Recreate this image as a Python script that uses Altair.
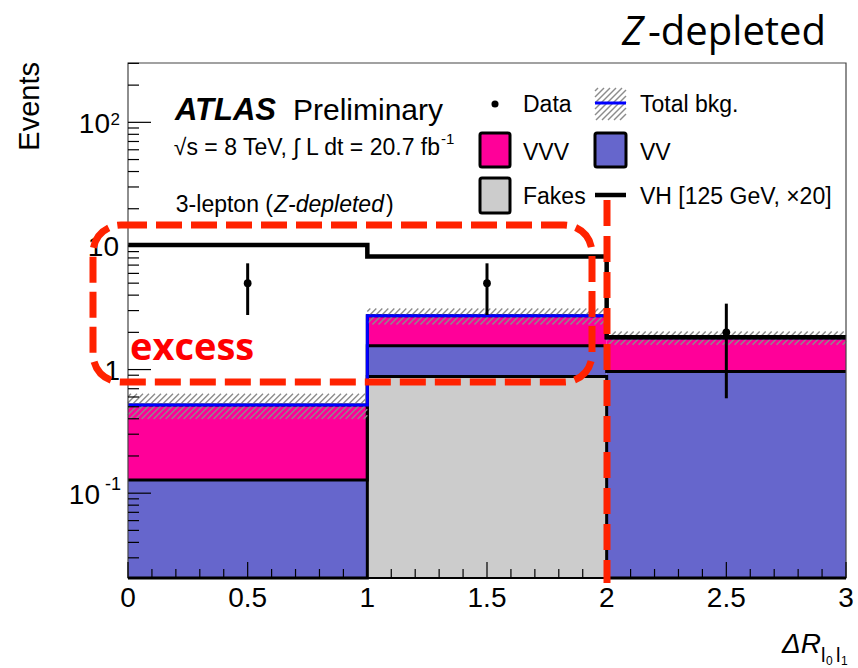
import math
import altair as alt
import pandas as pd

# Bin edges in Delta R(l0, l1)
bin_lo = [0.0, 1.0, 2.0]
bin_hi = [1.0, 2.0, 3.0]

# Expected backgrounds per bin, stacked bottom to top: Fakes, VV, VVV
fakes = [0.0, 0.877, 0.0]
vv = [0.128, 0.679, 0.963]
vvv = [0.390, 1.164, 0.847]
bkg_unc = [0.12, 0.40, 0.22]

# VH signal (125 GeV), scaled by 20
vh_x20 = [10.2, 8.22, 1.83]

# Observed events
data_x = [0.5, 1.5, 2.5]
data_n = [5, 5, 2]

# Axis ticks
x_major = [0, 0.5, 1, 1.5, 2, 2.5, 3]
x_labels = ["0", "0.5", "1", "1.5", "2", "2.5", "3"]
y_major = [0.1, 1, 10, 100]

YMIN, YMAX = 0.0206, 302.0

# Page geometry (pixels)
W, H = 858, 668
L, R, T, B = 128, 846, 63, 578
FONT = "Liberation Sans"
RED = "#ff2200"

total = [a + b + c for a, b, c in zip(fakes, vv, vvv)]

xs = alt.Scale(domain=[0, 3], range=[L, R], nice=False, zero=False)
ys = alt.Scale(type="log", domain=[YMIN, YMAX], range=[B, T], nice=False)

px_per_x = (R - L) / 3.0
px_per_dec = (B - T) / (math.log10(YMAX) - math.log10(YMIN))


def px_x(px):
    return (px - L) / px_per_x


def px_y(py):
    return 10 ** (math.log10(YMIN) + (B - py) / px_per_dec)


def xq(f):
    return alt.X(f, type="quantitative", scale=xs, axis=None)


def yq(f):
    return alt.Y(f, type="quantitative", scale=ys, axis=None)


def text_at(s, x, y, size, align="left", style="normal", weight="normal",
            color="black", font=FONT, angle=0, baseline="alphabetic"):
    return alt.Chart(pd.DataFrame({"t": [s]})).mark_text(
        fontSize=size, align=align, baseline=baseline, font=font, color=color,
        fontStyle=style, fontWeight=weight, angle=angle, clip=False,
    ).encode(x=alt.value(x), y=alt.value(y), text="t:N")


# ---- stacked background histogram ----
stack_rows = []
for i in range(3):
    cum = 0.0
    for name, vals in (("Fakes", fakes), ("VV", vv), ("VVV", vvv)):
        v = vals[i]
        if v > 0:
            stack_rows.append({"x": bin_lo[i], "x2": bin_hi[i],
                               "y": max(cum, YMIN), "y2": cum + v, "comp": name})
        cum += v

stack = alt.Chart(pd.DataFrame(stack_rows)).mark_rect(strokeWidth=0).encode(
    x=xq("x"), x2="x2", y=yq("y"), y2="y2",
    color=alt.Color("comp:N", legend=None,
                    scale=alt.Scale(domain=["Fakes", "VV", "VVV"],
                                    range=["#cccccc", "#6666cc", "#ff0099"])),
)


def step_rows(name, vals):
    rows, k = [], 0
    for lo, hi, v in zip(bin_lo, bin_hi, vals):
        v = max(v, YMIN)
        rows.append({"s": name, "k": k, "x": lo, "y": v}); k += 1
        rows.append({"s": name, "k": k, "x": hi, "y": v}); k += 1
    return rows


outline_rows = (step_rows("fakes", fakes)
                + step_rows("fakes_vv", [a + b for a, b in zip(fakes, vv)])
                + step_rows("all", total))
outlines = alt.Chart(pd.DataFrame(outline_rows)).mark_line(
    color="black", strokeWidth=3, strokeJoin="miter", clip=False
).encode(x=xq("x"), y=yq("y"), detail="s:N", order="k:Q")

# ---- hatched uncertainty band around total background ----
HATCH_STEP = 6.0
hatch = []
for lo_e, hi_e, tot, unc in zip(bin_lo, bin_hi, total, bkg_unc):
    la, lb = math.log10(tot - unc), math.log10(tot + unc)
    run = (lb - la) * px_per_dec / px_per_x
    step = HATCH_STEP / px_per_x
    x0 = lo_e - run + step / 2
    while x0 < hi_e:
        xa, xb, ya, yb = x0, x0 + run, la, lb
        if xa < lo_e:
            ya = la + (lo_e - xa) / run * (lb - la)
            xa = lo_e
        if xb > hi_e:
            yb = lb - (xb - hi_e) / run * (lb - la)
            xb = hi_e
        if xb > xa:
            hatch.append({"x": xa, "x2": xb, "y": 10 ** ya, "y2": 10 ** yb})
        x0 += step

band = alt.Chart(pd.DataFrame(hatch)).mark_rule(
    color="#8c8c8c", strokeWidth=1.4
).encode(x=xq("x"), x2="x2", y=yq("y"), y2="y2")

total_line = alt.Chart(pd.DataFrame(step_rows("tot", total))).mark_line(
    color="#0000ff", strokeWidth=3, strokeJoin="miter"
).encode(x=xq("x"), y=yq("y"), order="k:Q")

vh_line = alt.Chart(pd.DataFrame(step_rows("vh", vh_x20))).mark_line(
    color="black", strokeWidth=4.5, strokeJoin="miter"
).encode(x=xq("x"), y=yq("y"), order="k:Q")

# ---- data points with Poisson errors ----
dat = pd.DataFrame({
    "x": data_x, "n": data_n,
    "lo": [n - math.sqrt(n) for n in data_n],
    "hi": [n + math.sqrt(n) for n in data_n],
})
err = alt.Chart(dat).mark_rule(color="black", strokeWidth=3).encode(
    x=xq("x"), y=yq("lo"), y2="hi")
pts = alt.Chart(dat).mark_circle(color="black", size=60, opacity=1).encode(
    x=xq("x"), y=yq("n"))

# ---- frame and ticks ----
frame = alt.Chart(pd.DataFrame({"a": [0]})).mark_rect(
    fillOpacity=0, stroke="#444444", strokeWidth=1.2
).encode(x=alt.value(L), x2=alt.value(R), y=alt.value(T), y2=alt.value(B))
bottom = alt.Chart(pd.DataFrame({"a": [0]})).mark_rule(
    color="black", strokeWidth=2
).encode(x=alt.value(L), x2=alt.value(R), y=alt.value(B))

y_minor = [k * 10 ** d for d in range(-2, 3) for k in range(2, 10)
           if YMIN < k * 10 ** d < YMAX]
yt_major = alt.Chart(pd.DataFrame({"v": y_major})).mark_rule(
    color="black", strokeWidth=1.2
).encode(x=alt.value(L), x2=alt.value(L + 23), y=yq("v"))
yt_minor = alt.Chart(pd.DataFrame({"v": y_minor})).mark_rule(
    color="black", strokeWidth=1.2
).encode(x=alt.value(L), x2=alt.value(L + 11), y=yq("v"))

x_minor = [round(i * 0.1, 2) for i in range(31) if i % 5 != 0]
xt_major = alt.Chart(pd.DataFrame({"v": x_major})).mark_rule(
    color="black", strokeWidth=1.2
).encode(x=xq("v"), y=alt.value(B), y2=alt.value(B - 16))
xt_minor = alt.Chart(pd.DataFrame({"v": x_minor})).mark_rule(
    color="black", strokeWidth=1.2
).encode(x=xq("v"), y=alt.value(B), y2=alt.value(B - 9))

x_tick_text = alt.Chart(pd.DataFrame({"v": x_major, "t": x_labels})).mark_text(
    fontSize=28, font=FONT, align="center", baseline="alphabetic", clip=False
).encode(x=xq("v"), y=alt.value(607), text="t:N")


def ylab(s, v, x, size, dy):
    return alt.Chart(pd.DataFrame({"v": [v], "t": [s]})).mark_text(
        fontSize=size, font=FONT, align="right", baseline="alphabetic",
        dy=dy, clip=False
    ).encode(x=alt.value(x), y=yq("v"), text="t:N")


y_tick_text = [
    ylab("10", 100, 110, 28, 10.5), ylab("2", 100, 120, 17, 2.5),
    ylab("10", 10, 119, 28, 10.5),
    ylab("1", 1, 120, 28, 10.5),
    ylab("10", 0.1, 100, 28, 10.5), ylab("-1", 0.1, 121, 18, -3),
]

# ---- axis titles and headline ----
titles = [
    text_at("Events", 39, 62, 29, align="right", angle=270),
    text_at("\u0394R", 821, 653, 28, align="right", style="italic"),
    text_at("l", 821, 662, 20),
    text_at("0", 826, 665, 12),
    text_at("l", 836, 662, 20),
    text_at("1", 841, 665, 12),
    text_at("Z", 622, 45, 40, style="italic", font="Open Sans"),
    text_at("-depleted", 648, 45, 40, font="Open Sans"),
]

# ---- in-plot labels ----
labels = [
    text_at("ATLAS", 175, 120, 31, style="italic", weight="bold"),
    text_at("Preliminary", 293, 120, 30),
    text_at("\u221as = 8 TeV, \u222b L dt = 20.7 fb", 440, 155, 23, align="right"),
    text_at("-1", 441, 144, 15),
    text_at("3-lepton (", 273, 212, 23, align="right"),
    text_at("Z-depleted", 274, 212, 23, style="italic"),
    text_at(")", 386, 212, 23),
]

# ---- legend ----
def box(x0, x1, y0, y1, color):
    return alt.Chart(pd.DataFrame({"a": [0]})).mark_rect(
        fill=color, stroke="black", strokeWidth=3, cornerRadius=2
    ).encode(x=alt.value(x0), x2=alt.value(x1), y=alt.value(y0), y2=alt.value(y1))


leg_hatch = []
bx0, bx1, by0, by1 = 595, 626, 88, 120
hh = by1 - by0
p = bx0 - hh + 3
while p < bx1:
    xa, xb, ya, yb = p, p + hh, by1, by0
    if xa < bx0:
        ya = by1 - (bx0 - xa); xa = bx0
    if xb > bx1:
        yb = by0 + (xb - bx1); xb = bx1
    if xb > xa:
        leg_hatch.append({"x": px_x(xa), "x2": px_x(xb), "y": px_y(ya), "y2": px_y(yb)})
    p += HATCH_STEP

legend = [
    alt.Chart(pd.DataFrame({"a": [0]})).mark_circle(color="black", size=50, opacity=1)
    .encode(x=alt.value(495), y=alt.value(104)),
    text_at("Data", 523, 112, 23),
    alt.Chart(pd.DataFrame(leg_hatch)).mark_rule(color="#8c8c8c", strokeWidth=1.4)
    .encode(x=xq("x"), x2="x2", y=yq("y"), y2="y2"),
    alt.Chart(pd.DataFrame({"a": [0]})).mark_rule(color="#0000ff", strokeWidth=3)
    .encode(x=alt.value(595), x2=alt.value(626), y=alt.value(103)),
    text_at("Total bkg.", 640, 112, 23),
    box(480, 510, 133, 167, "#ff0099"),
    text_at("VVV", 523, 160, 23),
    box(595, 626, 133, 167, "#6666cc"),
    text_at("VV", 640, 160, 23),
    box(480, 510, 178, 213, "#cccccc"),
    text_at("Fakes", 523, 204, 23),
    alt.Chart(pd.DataFrame({"a": [0]})).mark_rule(color="black", strokeWidth=4.5)
    .encode(x=alt.value(595), x2=alt.value(626), y=alt.value(195)),
    text_at("VH [125 GeV, \u00d720]", 640, 204, 23),
]

# ---- highlighted region ----
marks = [
    alt.Chart(pd.DataFrame({"a": [0]})).mark_rect(
        fillOpacity=0, stroke=RED, strokeWidth=7, strokeDash=[26, 9], cornerRadius=28
    ).encode(x=alt.value(93), x2=alt.value(592), y=alt.value(225), y2=alt.value(382)),
    alt.Chart(pd.DataFrame({"a": [0]})).mark_rule(
        color=RED, strokeWidth=7, strokeDash=[26, 10]
    ).encode(x=alt.value(607), y=alt.value(200), y2=alt.value(583)),
    text_at("excess", 130, 360, 38, weight="bold", color="#ff0000", font="Open Sans"),
]

chart = alt.layer(
    stack, outlines, band, total_line, vh_line, err, pts,
    frame, bottom, yt_major, yt_minor, xt_major, xt_minor, x_tick_text,
    *y_tick_text, *titles, *labels, *legend, *marks,
).properties(
    width=W, height=H, padding=0,
    autosize=alt.AutoSizeParams(type="none"),
).configure_view(strokeWidth=0)

chart.save("out.html", embed_options={"renderer": "svg", "actions": False})
